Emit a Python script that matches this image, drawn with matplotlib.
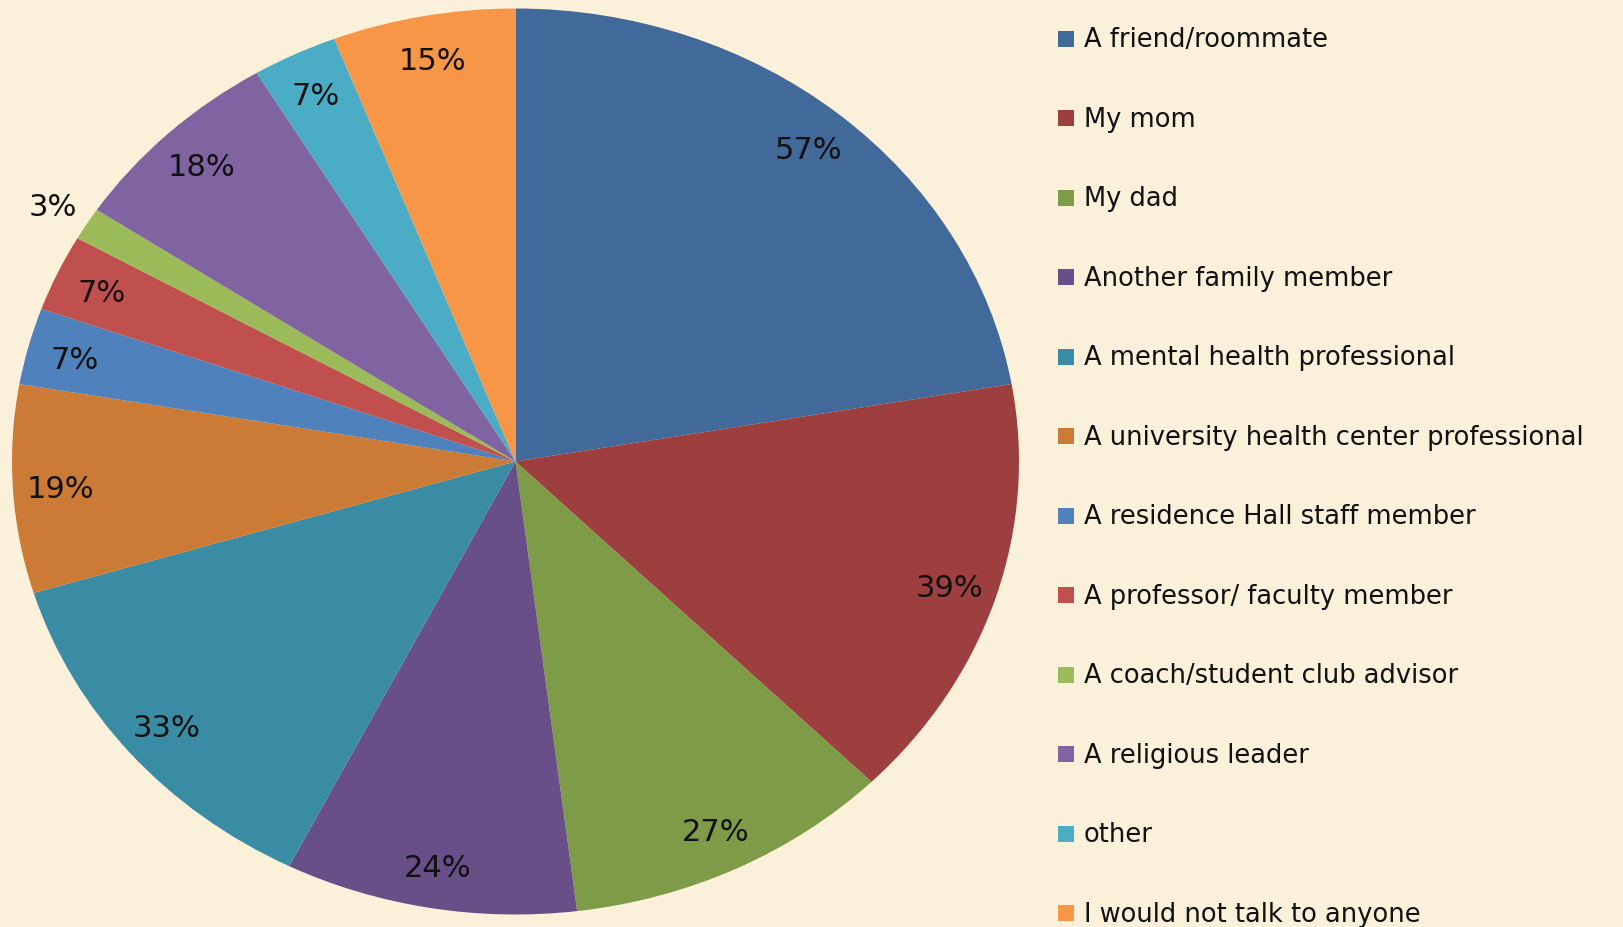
import matplotlib
matplotlib.use("Agg")
import matplotlib.pyplot as plt
from matplotlib.patches import Rectangle
import numpy as np

categories = [
    "A friend/roommate",
    "My mom",
    "My dad",
    "Another family member",
    "A mental health professional",
    "A university health center professional",
    "A residence Hall staff member",
    "A professor/ faculty member",
    "A coach/student club advisor",
    "A religious leader",
    "other",
    "I would not talk to anyone",
]
values = [57, 39, 27, 24, 33, 19, 7, 7, 3, 18, 7, 15]
colors = ["#416A9B", "#9C3F3E", "#7E9B48", "#684F87", "#3A8CA4", "#CC7B37",
          "#4F81BD", "#C0504D", "#9BBB59", "#8064A2", "#4BACC6", "#F79646"]

BG = "#FBF0D9"
FONT = "DejaVu Sans"

W, H = 1623, 927
fig = plt.figure(figsize=(W / 100, H / 100), dpi=100, facecolor=BG)

ax = fig.add_axes([12 / W, 12.5 / H, 1007 / W, 906 / H])
ax.set_facecolor("none")
wedges, _ = ax.pie(values, colors=colors, startangle=90, counterclock=False,
                   radius=1.0, wedgeprops=dict(linewidth=0))
ax.set_aspect("auto")
ax.set_xlim(-1, 1)
ax.set_ylim(-1, 1)
ax.axis("off")

for i, (w, v) in enumerate(zip(wedges, values)):
    mid = np.deg2rad((w.theta1 + w.theta2) / 2)
    r = 1.08 if v < 5 else 0.905
    ax.text(r * np.cos(mid), r * np.sin(mid), f"{v}%", ha="center",
            va="center_baseline", fontsize=22, family=FONT, color="#111111")

# legend drawn in pixel coordinates
lax = fig.add_axes([0, 0, 1, 1])
lax.set_xlim(0, W)
lax.set_ylim(H, 0)
lax.axis("off")
lax.set_facecolor("none")
y0, dy = 38.7, 79.5
for i, (c, lab) in enumerate(zip(colors, categories)):
    yc = y0 + i * dy
    lax.add_patch(Rectangle((1058, yc - 8), 16, 16, facecolor=c, edgecolor="none"))
    lax.text(1084, yc + 8.5, lab, ha="left", va="baseline", fontsize=18.5,
             family=FONT, color="#111111")

fig.savefig("out.png", dpi=100, facecolor=BG)
